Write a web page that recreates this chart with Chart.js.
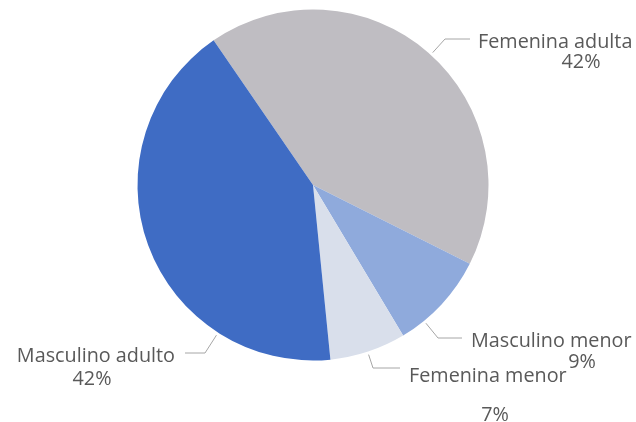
<!DOCTYPE html>
<html>
<head>
<meta charset="utf-8">
<script src="https://cdn.jsdelivr.net/npm/chart.js@4"></script>
<style>
  html, body { margin: 0; padding: 0; background: #ffffff; }
  #wrap { width: 636px; height: 422px; }
</style>
</head>
<body>
<div id="wrap"><canvas id="chart" width="636" height="422"></canvas></div>
<script>
// datos del gráfico
const categories = ['Femenina adulta', 'Masculino menor', 'Femenina menor', 'Masculino adulto'];
const values = [42, 9, 7, 42];
const sliceColors = ['#BFBDC2', '#8FAADC', '#D9DFEB', '#3F6CC4'];

// posición de las etiquetas respecto al centro del pastel (dx, dy)
// name: primera línea, pct: segunda línea, elbow: codo de la línea guía, lineEnd: fin horizontal
const labelLayout = [
  { name: [165, -137], pct: [268, -117], elbow: [132, -146], lineEnd: [157, -146], align: 'left' },
  { name: [158, 162], pct: [269, 183], elbow: [125, 153], lineEnd: [149, 153], align: 'left' },
  { name: [96, 197], pct: [182, 236], elbow: [60, 183], lineEnd: [87, 183], align: 'left' },
  { name: [-138, 177], pct: [-221, 200], elbow: [-108, 168], lineEnd: [-128, 168], align: 'right' }
];

const textColor = '#595959';
const leaderColor = '#A6A6A6';
const labelFont = '19.8px "Open Sans", "Noto Sans", sans-serif';

// plugin para dibujar etiquetas con líneas guía
const pieLabels = {
  id: 'pieLabels',
  afterDatasetsDraw(chart) {
    const ctx = chart.ctx;
    const meta = chart.getDatasetMeta(0);
    const total = values.reduce((a, b) => a + b, 0);
    meta.data.forEach(function(arc, i) {
      const lay = labelLayout[i];
      const cx = arc.x, cy = arc.y, r = arc.outerRadius;
      const ex = cx + lay.elbow[0], ey = cy + lay.elbow[1];
      // punto de inicio sobre el borde, en la dirección del codo
      let ang = Math.atan2(ey - cy, ex - cx);
      let s = arc.startAngle, e = arc.endAngle;
      while (ang < s) ang += Math.PI * 2;
      while (ang > s + Math.PI * 2) ang -= Math.PI * 2;
      if (ang > e) ang = (ang - e < s + Math.PI * 2 - ang) ? e : s;
      const sx = cx + Math.cos(ang) * (r + 3);
      const sy = cy + Math.sin(ang) * (r + 3);

      ctx.save();
      ctx.strokeStyle = leaderColor;
      ctx.lineWidth = 1;
      ctx.beginPath();
      ctx.moveTo(sx, sy);
      ctx.lineTo(ex, ey);
      ctx.lineTo(cx + lay.lineEnd[0], cy + lay.lineEnd[1]);
      ctx.stroke();

      ctx.fillStyle = textColor;
      ctx.font = labelFont;
      ctx.textBaseline = 'alphabetic';
      ctx.textAlign = lay.align;
      ctx.fillText(categories[i], cx + lay.name[0], cy + lay.name[1]);
      ctx.textAlign = 'center';
      const pct = Math.round(values[i] / total * 100) + '%';
      ctx.fillText(pct, cx + lay.pct[0], cy + lay.pct[1]);
      ctx.restore();
    });
  }
};

new Chart(document.getElementById('chart'), {
  type: 'pie',
  data: {
    labels: categories,
    datasets: [{
      data: values,
      backgroundColor: sliceColors,
      borderWidth: 0
    }]
  },
  options: {
    responsive: false,
    animation: false,
    rotation: -34.5,
    layout: { padding: { top: 9.5, bottom: 61.5, left: 0, right: 10 } },
    plugins: {
      legend: { display: false },
      tooltip: { enabled: false }
    }
  },
  plugins: [pieLabels]
});
</script>
</body>
</html>
